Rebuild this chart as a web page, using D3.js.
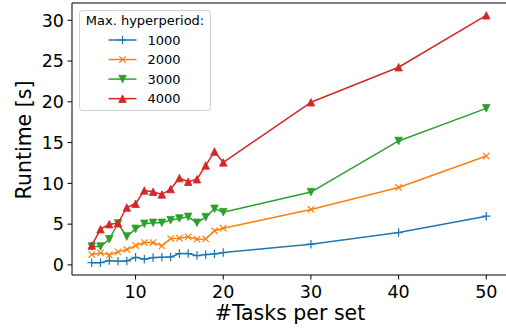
<!DOCTYPE html>
<html><head><meta charset="utf-8">
<script src="https://cdn.jsdelivr.net/npm/d3@7"></script>
<style>body{margin:0;background:#fff}svg{display:block}</style>
</head><body>
<script>
const tasks = [5,6,7,8,9,10,11,12,13,14,15,16,17,18,19,20,30,40,50];
const s1000 = [0.28,0.28,0.53,0.45,0.49,0.94,0.70,0.90,0.94,0.98,1.39,1.39,1.14,1.27,1.35,1.51,2.54,3.97,5.98];
const s2000 = [1.27,1.47,1.23,1.60,1.88,2.37,2.74,2.74,2.33,3.23,3.28,3.44,3.15,3.19,4.18,4.50,6.80,9.50,13.35];
const s3000 = [2.25,2.25,3.15,5.08,3.48,4.42,5.04,5.16,5.16,5.49,5.69,5.90,5.16,5.86,6.88,6.47,8.93,15.2,19.2];
const s4000 = [2.37,4.38,5.00,5.12,7.04,7.50,9.13,8.97,8.64,9.30,10.65,10.20,10.50,12.2,13.9,12.57,19.94,24.24,30.6];
const seriesNames = ["1000","2000","3000","4000"];
const xTicks = [10,20,30,40,50];
const yTicks = [0,5,10,15,20,25,30];

const W=506,H=329;
const colors=["#1f77b4","#ff7f0e","#2ca02c","#d62728"];
const markers=["plus","x","tdown","tup"];
const allSeries=[s1000,s2000,s3000,s4000];

const svg=d3.select("body").append("svg").attr("width",W).attr("height",H)
  .style("font-family","'DejaVu Sans', sans-serif");

const L=72,R=506,T=3,B=275;
const xmin=d3.min(tasks),xmax=d3.max(tasks);
const xm=(xmax-xmin)*0.05;
const allV=allSeries.flat();
const ymin=d3.min(allV),ymax=d3.max(allV),ym=(ymax-ymin)*0.05;
const x=d3.scaleLinear().domain([xmin-xm,xmax+xm]).range([L,R]);
const y=d3.scaleLinear().domain([ymin-ym,ymax+ym]).range([B,T]);

function markerPath(type,s){
  const h=s/2;
  if(type==="tup") return `M0,${-h}L${h},${h}L${-h},${h}Z`;
  if(type==="tdown") return `M0,${h}L${h},${-h}L${-h},${-h}Z`;
  if(type==="plus") return `M${-h},0L${h},0M0,${-h}L0,${h}`;
  if(type==="x") return `M${-h*0.75},${-h*0.75}L${h*0.75},${h*0.75}M${-h*0.75},${h*0.75}L${h*0.75},${-h*0.75}`;
}
function drawMarker(g,type,color,cx,cy){
  const filled=(type==="tup"||type==="tdown");
  g.append("path").attr("d",markerPath(type,filled?7.5:8.5))
   .attr("transform",`translate(${cx},${cy})`)
   .attr("fill",filled?color:"none").attr("stroke",color)
   .attr("stroke-width",filled?0.8:1.2);
}

const line=d3.line().x((d,i)=>x(tasks[i])).y(d=>y(d));
allSeries.forEach((s,k)=>{
  const g=svg.append("g");
  g.append("path").datum(s).attr("d",line).attr("fill","none")
   .attr("stroke",colors[k]).attr("stroke-width",1.5).attr("stroke-linejoin","round");
  s.forEach((v,i)=>drawMarker(g,markers[k],colors[k],x(tasks[i]),y(v)));
});

// spines
svg.append("line").attr("x1",L).attr("x2",L).attr("y1",T).attr("y2",B).attr("stroke","#000").attr("stroke-width",1);
svg.append("line").attr("x1",L).attr("x2",R).attr("y1",B).attr("y2",B).attr("stroke","#000").attr("stroke-width",1);
svg.append("line").attr("x1",L).attr("x2",R).attr("y1",T).attr("y2",T).attr("stroke","#000").attr("stroke-width",1);

// ticks
xTicks.forEach(t=>{
  svg.append("line").attr("x1",x(t)).attr("x2",x(t)).attr("y1",B).attr("y2",B+4.5).attr("stroke","#000");
  svg.append("text").attr("x",x(t)).attr("y",298).attr("text-anchor","middle")
    .attr("font-size",17.5).attr("fill","#000").text(t);
});
yTicks.forEach(t=>{
  svg.append("line").attr("x1",L-4.5).attr("x2",L).attr("y1",y(t)).attr("y2",y(t)).attr("stroke","#000");
  svg.append("text").attr("x",64).attr("y",y(t)+6.3).attr("text-anchor","end")
    .attr("font-size",17.5).attr("fill","#000").text(t);
});
svg.append("text").attr("x",290).attr("y",320).attr("text-anchor","middle")
  .attr("font-size",20.5).attr("fill","#000").text("#Tasks per set");
svg.append("text").attr("transform","translate(31,140) rotate(-90)").attr("text-anchor","middle")
  .attr("font-size",20.5).attr("fill","#000").text("Runtime [s]");

// legend
const lg=svg.append("g");
lg.append("rect").attr("x",79.5).attr("y",10.5).attr("width",131).attr("height",100).attr("rx",3)
  .attr("fill","#fff").attr("fill-opacity",0.8).attr("stroke","#d0d0d0").attr("stroke-width",1);
lg.append("text").attr("x",145).attr("y",25).attr("text-anchor","middle").attr("font-size",13).attr("fill","#000").text("Max. hyperperiod:");
seriesNames.forEach((n,k)=>{
  const cy=40+k*19.55;
  lg.append("line").attr("x1",108.5).attr("x2",136.5).attr("y1",cy).attr("y2",cy).attr("stroke",colors[k]).attr("stroke-width",1.5);
  drawMarker(lg,markers[k],colors[k],122.5,cy);
  lg.append("text").attr("x",147.5).attr("y",cy+4.7).attr("font-size",13).attr("fill","#000").text(n);
});
</script>
</body></html>
